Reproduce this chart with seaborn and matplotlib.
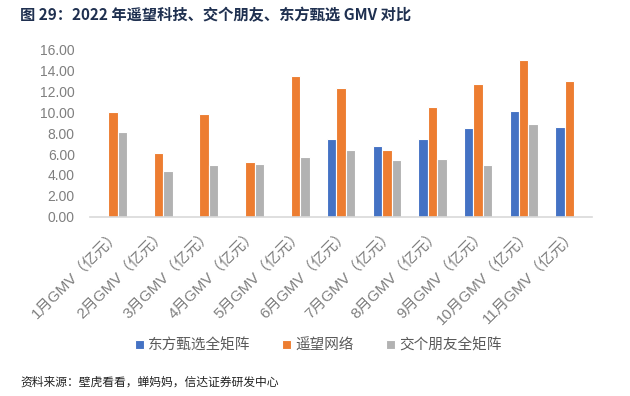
import numpy as np
import pandas as pd
import matplotlib
matplotlib.use("Agg")
import matplotlib.pyplot as plt
import seaborn as sns

# data
months = ["1月GMV（亿元）", "2月GMV（亿元）", "3月GMV（亿元）", "4月GMV（亿元）",
          "5月GMV（亿元）", "6月GMV（亿元）", "7月GMV（亿元）", "8月GMV（亿元）",
          "9月GMV（亿元）", "10月GMV（亿元）", "11月GMV（亿元）"]
dongfang = [np.nan, np.nan, np.nan, np.nan, np.nan, 7.47, 6.74, 7.41, 8.46, 10.10, 8.56]
yaowang = [10.02, 6.08, 9.86, 5.22, 13.50, 12.36, 6.38, 10.48, 12.69, 15.02, 13.03]
jiaoge = [8.10, 4.42, 5.00, 5.09, 5.70, 6.38, 5.39, 5.49, 4.91, 8.88, np.nan]
series = ["东方甄选全矩阵", "遥望网络", "交个朋友全矩阵"]
colors = ["#4472C4", "#ED7D31", "#B2B2B2"]

df = pd.DataFrame({
    "month": months * 3,
    "gmv": dongfang + yaowang + jiaoge,
    "series": [series[0]] * 11 + [series[1]] * 11 + [series[2]] * 11,
})

sns.set_style("white")
plt.rcParams["font.family"] = ["Noto Sans CJK SC", "DejaVu Sans"]
tick_font = ["Liberation Sans", "Noto Sans CJK SC"]

fig = plt.figure(figsize=(6.3, 3.96), dpi=100)
ax = fig.add_axes([0.143, 0.453, 0.797, 0.421])

sns.barplot(data=df, x="month", y="gmv", hue="series", hue_order=series,
            palette=colors, saturation=1, width=0.62, edgecolor="white",
            linewidth=0.8, errorbar=None, ax=ax)

ax.set_ylim(0, 16)
ax.set_yticks(np.arange(0, 17, 2))
ax.set_yticklabels([f"{v:.2f}" for v in np.arange(0, 17, 2)], color="#7F7F7F",
                   fontsize=10, family=tick_font)
ax.set_xticks(range(len(months)))
ax.set_xticklabels(months, rotation=45, ha="right", rotation_mode="anchor",
                   color="#7F7F7F", fontsize=11, family=tick_font)
ax.tick_params(axis="y", length=0, pad=11)
ax.tick_params(axis="x", length=0, pad=7)
ax.set_xlabel("")
ax.set_ylabel("")
for s in ["top", "right", "left"]:
    ax.spines[s].set_visible(False)
ax.spines["bottom"].set_color("#D9D9D9")
ax.spines["bottom"].set_linewidth(1.2)
ax.set_xlim(-0.5, 10.5)

ax.legend_.remove()
handles, labels = ax.get_legend_handles_labels()
fig.legend(handles, labels, loc="center", bbox_to_anchor=(0.505, 0.128), ncol=3,
           frameon=False, fontsize=10.5, handlelength=0.6, handleheight=0.6,
           handletextpad=0.3, columnspacing=2.2, labelcolor="#595959")

fig.text(0.032, 0.962, "图 29：2022 年遥望科技、交个朋友、东方甄选 GMV 对比",
         fontsize=11, fontweight="bold", color="#1F3050", va="center")
fig.text(0.032, 0.035, "资料来源：壁虎看看，蝉妈妈，信达证券研发中心",
         fontsize=8.5, color="#222222", va="center", style="italic")

fig.savefig("out.png", dpi=100)
